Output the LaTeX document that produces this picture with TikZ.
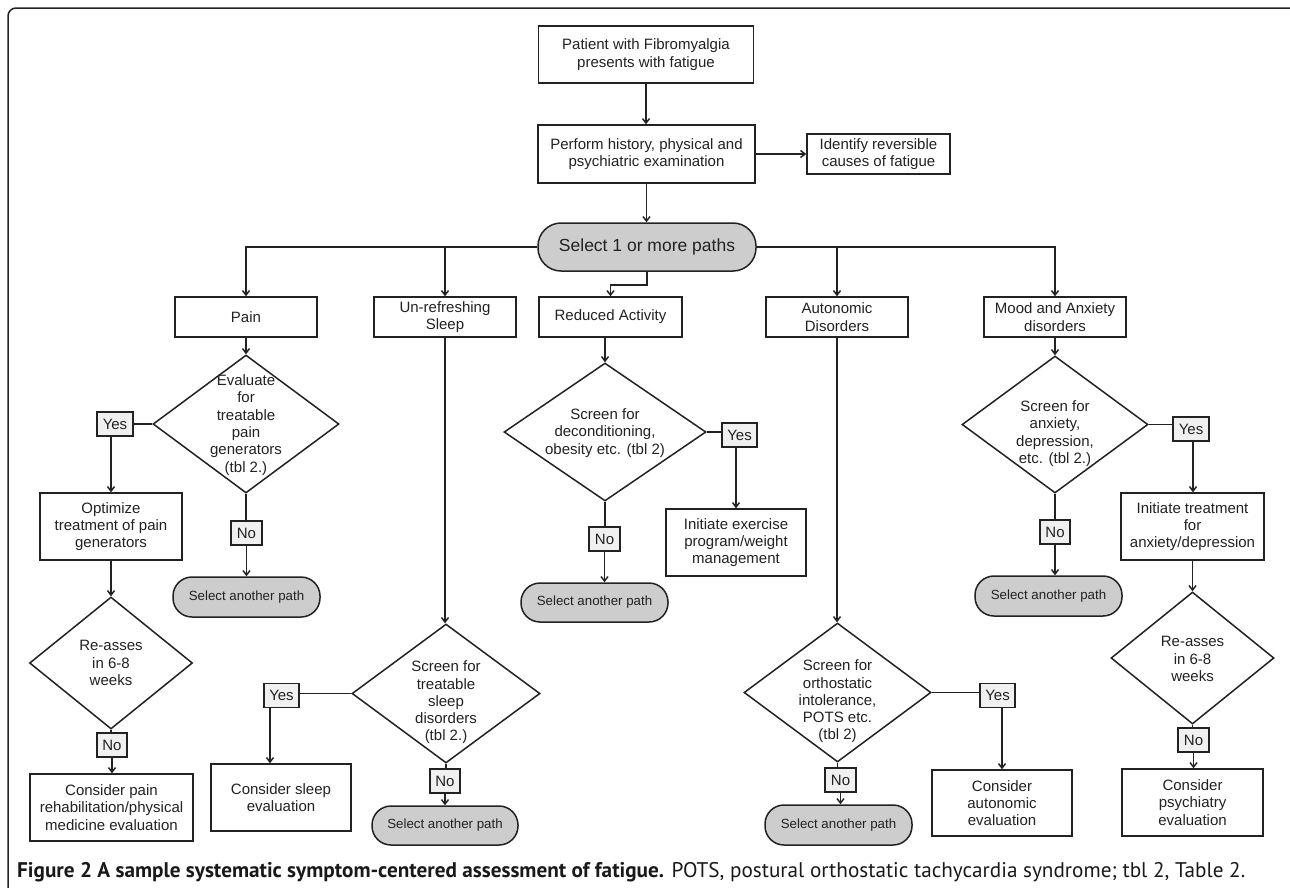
\documentclass[tikz,border=0pt]{standalone}
\usepackage{fontspec}
\setmainfont{Liberation Sans}
\newfontfamily\capfont{PT Sans}
\usetikzlibrary{shapes.geometric,arrows.meta}
\definecolor{ink}{HTML}{222222}
\definecolor{stadgray}{HTML}{CDCDCD}
\definecolor{tagfill}{HTML}{F0F0F0}
\newcommand{\mainfs}{\fontsize{15}{17.3}\selectfont}
\newcommand{\bigfs}{\fontsize{17.5}{21}\selectfont}
\newcommand{\smallfs}{\fontsize{13.3}{15}\selectfont}
\begin{document}
\begin{tikzpicture}[x=1pt,y=-1pt,
  bx/.style 2 args={draw=ink, line width=1.5pt, fill=white, align=center, inner sep=0pt,
     font=\mainfs, text=ink, minimum width=#1pt, minimum height=#2pt},
  dia/.style 2 args={draw=ink, line width=1.5pt, fill=white, shape=diamond, inner sep=0pt,
     minimum width=#1pt, minimum height=#2pt},
  dtext/.style={align=center, font=\mainfs, text=ink, inner sep=0pt},
  tag/.style={draw=ink, line width=1.3pt, fill=tagfill, inner sep=0pt, font=\mainfs, text=ink,
     minimum width=#1pt, minimum height=24pt},
  stadium/.style 2 args={draw=ink, line width=1.5pt, fill=stadgray, inner sep=0pt, align=center,
     font=\smallfs, text=ink, minimum width=#1pt, minimum height=#2pt, rounded corners=19pt},
  ln/.style={draw=ink, line width=1.5pt},
  arr/.style={draw=ink, line width=1.5pt, -{Straight Barb[length=4.5pt,width=7pt]}}]
\useasboundingbox (0,0) rectangle (1290,887);
\clip (0,0) rectangle (1290,887);
\draw[rounded corners=8pt, line width=1.5pt, draw=ink] (8,8) rectangle (1310,910);

% top
\node[bx={215}{57}] (patient) at (646,54.5) {Patient with Fibromyalgia\\presents with fatigue};
\node[bx={217}{58}] (perform) at (646.5,154) {Perform history, physical and\\psychiatric examination};
\node[bx={143}{40}] (identify) at (878.5,154) {Identify reversible\\causes of fatigue};
\node[stadium={218}{48}, font=\bigfs, rounded corners=23pt] (select) at (647,247) {Select 1 or more paths};

% categories
\node[bx={142}{40}] (pain) at (246,317) {Pain};
\node[bx={142}{40}] (sleep) at (445,317) {Un-refreshing\\Sleep};
\node[bx={143}{40}] (reduced) at (610.5,317) {Reduced Activity};
\node[bx={142}{40}] (auto) at (837,317) {Autonomic\\Disorders};
\node[bx={142}{40}] (mood) at (1055,317) {Mood and Anxiety\\disorders};

% pain column
\node[dia={186}{138}, label={[dtext, yshift=-1pt]center:Evaluate\\for\\treatable\\pain\\generators\\(tbl 2.)}] (dpain) at (246,424) {};
\node[tag=36] (yes1) at (115,424) {Yes};
\node[bx={142}{67}] (opt) at (111,526.5) {Optimize\\treatment of pain\\generators};
\node[tag=31] (no1) at (246.5,533) {No};
\node[stadium={147}{40}] (sel1) at (246.5,597) {Select another path};
\node[dia={163}{132}, label={[dtext]center:Re-asses\\in 6-8\\weeks}] (dre1) at (111,663) {};
\node[tag=30] (no2) at (112,745) {No};
\node[bx={163}{67}] (cpain) at (111.5,807.5) {Consider pain\\rehabilitation/physical\\medicine evaluation};

% sleep column
\node[dia={188}{139}, label={[dtext, yshift=-9pt]center:Screen for\\treatable\\sleep\\disorders\\(tbl 2.)}] (dsleep) at (446,693.5) {};
\node[tag=35] (yes2) at (281.5,695.5) {Yes};
\node[bx={140}{67}] (csleep) at (281,797.5) {Consider sleep\\evaluation};
\node[tag=30] (no3) at (445,781) {No};
\node[stadium={146}{39}] (sel2) at (445,825.5) {Select another path};

% reduced activity column
\node[dia={202}{138}, label={[dtext, yshift=-1pt]center:Screen for\\deconditioning,\\obesity etc. (tbl 2)}] (dred) at (605,432) {};
\node[tag=35] (yes3) at (739.5,435) {Yes};
\node[bx={140}{67}] (exer) at (736,542.5) {Initiate exercise\\program/weight\\management};
\node[tag=31] (no4) at (604.5,539) {No};
\node[stadium={147}{39}] (sel3) at (594.5,602.5) {Select another path};

% autonomic column
\node[dia={187}{139}, label={[dtext, yshift=-9pt]center:Screen for\\orthostatic\\intolerance,\\POTS etc.\\(tbl 2)}] (dauto) at (837.5,692.5) {};
\node[tag=35] (yes4) at (997.5,695.5) {Yes};
\node[bx={140}{66}] (cauto) at (1002,803) {Consider\\autonomic\\evaluation};
\node[tag=31] (no5) at (840.5,780) {No};
\node[stadium={147}{40}] (sel4) at (838.5,825) {Select another path};

% mood column
\node[dia={186}{137}, label={[dtext, yshift=-9pt]center:Screen for\\anxiety,\\depression,\\etc. (tbl 2.)}] (dmood) at (1055,424.5) {};
\node[tag=36] (yes5) at (1191,429) {Yes};
\node[bx={143}{67}] (initm) at (1192.5,526.5) {Initiate treatment\\for\\anxiety/depression};
\node[tag=30] (no6) at (1055,532) {No};
\node[stadium={147}{40}] (sel5) at (1048.5,596) {Select another path};
\node[dia={163}{132}, label={[dtext, yshift=-1pt]center:Re-asses\\in 6-8\\weeks}] (dre2) at (1192.5,658) {};
\node[tag=31] (no7) at (1193.5,740) {No};
\node[bx={141}{67}] (cpsych) at (1192.5,802.5) {Consider\\psychiatry\\evaluation};

% top connectors
\draw[arr] (patient.south) -- (patient.south |- perform.north);
\draw[arr] (perform.east) -- (identify.west);
\draw[arr] (perform.south) -- (perform.south |- select.north);
\draw[arr] (select.west) -| (pain.north);
\draw[arr] (sleep.north |- select.west) -- (sleep.north);
\draw[arr] (select.east) -| (mood.north);
\draw[arr] (auto.north |- select.east) -- (auto.north);
\draw[arr] (select.south) -- ++(0,13) -| (reduced.north);

% pain
\draw[arr] (pain.south) -- (dpain.north);
\draw[ln] (dpain.west) -- (dpain.west -| yes1.east);
\draw[arr] ([xshift=-4pt]yes1.south) -- ([xshift=-4pt]yes1.south |- opt.north);
\draw[ln] (dpain.south) -- (dpain.south |- no1.north);
\draw[arr] (no1.south) -- (no1.south |- sel1.north);
\draw[arr] (opt.south) -- (opt.south |- dre1.north);
\draw[ln] (dre1.south) -- (dre1.south |- no2.north);
\draw[arr] (no2.south) -- (no2.south |- cpain.north);

% sleep
\draw[arr] (sleep.south) -- (sleep.south |- dsleep.north);
\draw[ln] (dsleep.west) -- (dsleep.west -| yes2.east);
\draw[arr] ([xshift=-11.5pt]yes2.south) -- ([xshift=-11.5pt]yes2.south |- csleep.north);
\draw[ln] (dsleep.south) -- (dsleep.south |- no3.north);
\draw[arr] (no3.south) -- (no3.south |- sel2.north);

% reduced
\draw[arr] (dred.north |- reduced.south) -- (dred.north);
\draw[ln] (dred.east) -- (dred.east -| yes3.west);
\draw[arr] ([xshift=-3.5pt]yes3.south) -- ([xshift=-3.5pt]yes3.south |- exer.north);
\draw[ln] (dred.south) -- (dred.south |- no4.north);
\draw[arr] (no4.south) -- (no4.south |- sel3.north);

% autonomic
\draw[arr] (auto.south) -- (auto.south |- dauto.north);
\draw[ln] (dauto.east) -- (dauto.east -| yes4.west);
\draw[arr] ([xshift=4.5pt]yes4.south) -- ([xshift=4.5pt]yes4.south |- cauto.north);
\draw[ln] (dauto.south) -- (dauto.south |- no5.north);
\draw[arr] (no5.south) -- (no5.south |- sel4.north);

% mood
\draw[arr] (mood.south) -- (mood.south |- dmood.north);
\draw[ln] (dmood.east) -- (dmood.east -| yes5.west);
\draw[arr] ([xshift=2pt]yes5.south) -- ([xshift=2pt]yes5.south |- initm.north);
\draw[ln] (dmood.south) -- (dmood.south |- no6.north);
\draw[arr] (no6.south) -- (no6.south |- sel5.north);
\draw[arr] (initm.south) -- (initm.south |- dre2.north);
\draw[ln] (dre2.south) -- (dre2.south |- no7.north);
\draw[arr] (no7.south) -- (no7.south |- cpsych.north);

% caption
\node[anchor=base west, inner sep=0pt, font=\capfont\fontsize{21.2}{24}\selectfont, text=black!90] (cap) at (17,877)
  {\textbf{Figure 2 A sample systematic symptom-centered assessment of fatigue.} POTS, postural orthostatic tachycardia syndrome; tbl 2, Table 2.};
\end{tikzpicture}
\end{document}
